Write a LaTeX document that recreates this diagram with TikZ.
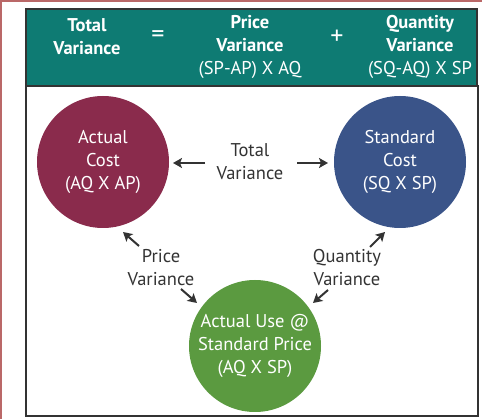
\documentclass[tikz,border=0pt]{standalone}
\usepackage{fontspec}
\setmainfont{PT Sans}
\usepackage{xcolor}
\usetikzlibrary{arrows.meta}
\definecolor{hdrteal}{RGB}{14,123,115}
\definecolor{actualred}{RGB}{138,43,76}
\definecolor{stdblue}{RGB}{58,84,137}
\definecolor{usegreen}{RGB}{91,154,64}
\definecolor{txtgray}{RGB}{51,51,51}
\definecolor{edgered}{RGB}{186,104,104}

\begin{document}
\begin{tikzpicture}[x=1pt, y=-1pt,
    cost/.style={circle, minimum size=132pt, inner sep=0pt, text=white, align=center, font=\fontsize{18.5}{23}\selectfont},
    varlabel/.style={text=txtgray, align=center, inner sep=2pt, font=\fontsize{18.5}{23}\selectfont},
    head/.style={text=white, align=center, font=\fontsize{18.5}{23}\selectfont},
    sign/.style={text=white, font=\fontsize{26}{26}\selectfont},
    varrow/.style={-{Stealth[length=9pt, width=10pt, inset=2pt]}, line width=2pt, txtgray}
]
\useasboundingbox (0,0) rectangle (482,419);
\fill[white] (0,0) rectangle (482,419);
\draw[edgered, line width=1.5pt] (1,419) -- (1,1) -- (482,1);

% header
\draw[fill=hdrteal, draw=txtgray, line width=1.5pt] (26,9) rectangle (477,86);
\draw[txtgray, line width=2pt] (26,86) rectangle (478,416);
\node[head] (hdrtotal) at (87,37) {\bfseries Total\\\bfseries Variance};
\node[sign] (hdreq) at (158,37) {=};
\node[head] (hdrprice) at (250,47) {\bfseries Price\\\bfseries Variance\\(SP-AP) X AQ};
\node[sign] (hdrplus) at (337,37) {+};
\node[head] (hdrqty) at (420,47) {\bfseries Quantity\\\bfseries Variance\\(SQ-AQ) X SP};

% circles
\node[cost, fill=actualred] (actual) at (103,162) {Actual\\Cost\\(AQ X AP)};
\node[cost, fill=stdblue] (standard) at (400,162) {Standard\\Cost\\(SQ X SP)};
\node[cost, fill=usegreen] (actualuse) at (255,346) {Actual Use @\\Standard Price\\(AQ X SP)};

% variance labels
\node[varlabel] (totalvar) at (250,162) {Total\\Variance};
\node[varlabel] (pricevar) at (161,268) {Price\\Variance};
\node[varlabel] (qtyvar) at (347,268) {Quantity\\Variance};

% arrows
\draw[varrow] ([shift={(-45,1)}]totalvar.center) -- ([shift={(70,1)}]actual.center);
\draw[varrow] ([shift={(47,1)}]totalvar.center) -- ([shift={(-72,1)}]standard.center);
\draw[varrow] ([shift={(-22,-22)}]pricevar.center) -- ([shift={(20,70)}]actual.center);
\draw[varrow] ([shift={(20,21)}]pricevar.center) -- ([shift={(-58,-43)}]actualuse.center);
\draw[varrow] ([shift={(23,-21)}]qtyvar.center) -- ([shift={(-15,70)}]standard.center);
\draw[varrow] ([shift={(-19,22)}]qtyvar.center) -- ([shift={(58,-43)}]actualuse.center);
\end{tikzpicture}
\end{document}
